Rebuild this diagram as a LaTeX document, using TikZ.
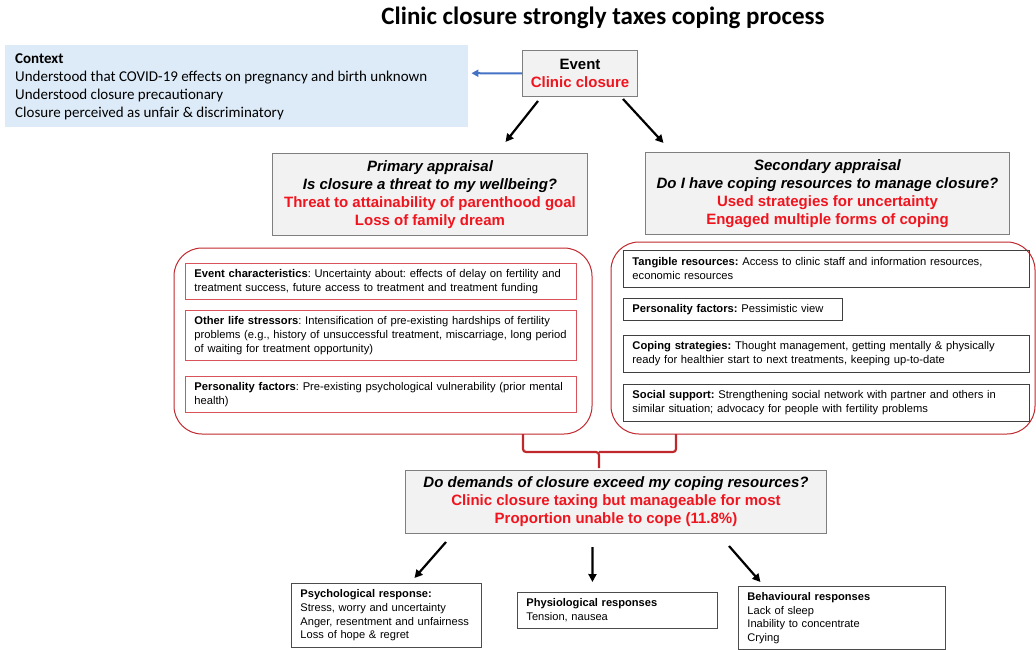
\documentclass[tikz,border=0pt]{standalone}
\usepackage{fontspec}
\setmainfont{Liberation Sans}
\newfontfamily\calib{Carlito}
\usetikzlibrary{arrows.meta,calc}
\frenchspacing
\definecolor{ctxblue}{HTML}{DDEBF8}
\definecolor{boxgray}{HTML}{F2F2F2}
\definecolor{edgegray}{HTML}{7F7F7F}
\definecolor{txtred}{HTML}{F0141E}
\definecolor{darkred}{HTML}{C0282E}
\definecolor{innerred}{HTML}{D9545A}
\definecolor{arrblue}{HTML}{4472C4}
\begin{document}
\begin{tikzpicture}[x=1pt,y=-1pt,
  graybox/.style={draw=edgegray,line width=1pt,fill=boxgray,inner sep=0pt,align=center,anchor=north west,font=\fontsize{15}{18}\selectfont\bfseries},
  redgroup/.style={draw=darkred,line width=1pt,rounded corners=28pt,fill=none},
  innerbox/.style={draw=innerred,line width=0.9pt,inner xsep=9pt,inner ysep=0pt,align=left,anchor=north west,font=\fontsize{11.2}{14}\selectfont\frenchspacing},
  blackbox/.style={draw=black!75,line width=0.9pt,inner xsep=9pt,inner ysep=0pt,align=left,anchor=north west,font=\fontsize{11.2}{14}\selectfont\frenchspacing},
  respbox/.style={draw=black!70,line width=0.9pt,inner xsep=9pt,inner ysep=0pt,align=left,anchor=north west,font=\fontsize{11.1}{13.6}\selectfont},
  arr/.style={line width=2.2pt,-{Triangle[length=8pt,width=8pt]}},
  bracestyle/.style={draw=darkred,line width=2.2pt,rounded corners=3pt}
]
\useasboundingbox (0,0) rectangle (1036,650);

% title
\node[font=\calib\fontsize{25}{28}\bfseries] (title) at (603,18) {Clinic closure strongly taxes coping process};

% context
\node[fill=ctxblue,anchor=north west,minimum width=463pt,minimum height=82pt,inner sep=0pt] (context) at (5,45) {};
\node[anchor=north west,align=left,inner sep=0pt,font=\calib\fontsize{15}{18}\selectfont] (contexttxt) at (15,53)
 {\textbf{Context}\\Understood that COVID-19 effects on pregnancy and birth unknown\\Understood closure precautionary\\Closure perceived as unfair \& discriminatory};

% event
\node[graybox,minimum width=115pt,minimum height=46pt] (event) at (522,50)
 {Event\\\textcolor{txtred}{Clinic closure}};

% primary / secondary appraisal
\node[graybox,minimum width=315pt,minimum height=82pt] (prim) at (272,153)
 {\itshape Primary appraisal\\\itshape Is closure a threat to my wellbeing?\\\textcolor{txtred}{Threat to attainability of parenthood goal}\\\textcolor{txtred}{Loss of family dream}};
\node[graybox,minimum width=364pt,minimum height=82pt] (sec) at (645,152)
 {\itshape Secondary appraisal\\\itshape Do I have coping resources to manage closure?\\\textcolor{txtred}{Used strategies for uncertainty}\\\textcolor{txtred}{Engaged multiple forms of coping}};

% red groups
\draw[redgroup] (174,248) rectangle (592,434);
\node[anchor=north west,minimum width=418pt,minimum height=186pt,inner sep=0pt] (leftgrp) at (174,248) {};
\draw[redgroup] (611,242) rectangle (1035,434);
\node[anchor=north west,minimum width=424pt,minimum height=192pt,inner sep=0pt] (rightgrp) at (611,242) {};

% left inner boxes
\node[innerbox,text width=373pt,minimum height=36pt] (ev) at (185,263)
 {\textbf{Event characteristics}: Uncertainty about: effects of delay on fertility and\\treatment success, future access to treatment and treatment funding};
\node[innerbox,text width=373pt,minimum height=50pt] (ols) at (185,310)
 {\textbf{Other life stressors}: Intensification of pre-existing hardships of fertility\\problems (e.g., history of unsuccessful treatment, miscarriage, long period\\of waiting for treatment opportunity)};
\node[innerbox,text width=373pt,minimum height=36pt] (pf1) at (185,376)
 {\textbf{Personality factors}: Pre-existing psychological vulnerability (prior mental\\health)};

% right inner boxes
\node[blackbox,text width=388pt,minimum height=37pt] (tr) at (623,250)
 {\textbf{Tangible resources:} Access to clinic staff and information resources,\\economic resources};
\node[blackbox,text width=201pt,minimum height=22pt] (pf2) at (623,298)
 {\textbf{Personality factors:} Pessimistic view};
\node[blackbox,text width=388pt,minimum height=37pt] (cs) at (623,335)
 {\textbf{Coping strategies:} Thought management, getting mentally \& physically\\ready for healthier start to next treatments, keeping up-to-date};
\node[blackbox,text width=388pt,minimum height=37pt] (ss) at (623,384)
 {\textbf{Social support:} Strengthening social network with partner and others in\\similar situation; advocacy for people with fertility problems};

% decision box
\node[graybox,minimum width=421pt,minimum height=63pt] (dec) at (405,470)
 {\itshape Do demands of closure exceed my coping resources?\\\textcolor{txtred}{Clinic closure taxing but manageable for most}\\\textcolor{txtred}{Proportion unable to cope (11.8\%)}};

% brace
\coordinate (bl) at (523,434);
\coordinate (br) at (676,434);
\coordinate (bm) at (599,452);
\coordinate (btip) at (599,468);
\draw[bracestyle] (bl) |- (bm) -- (btip);
\draw[bracestyle] (br) |- (bm);

% response boxes
\node[respbox,text width=172pt,minimum height=64pt] (psy) at (291,583)
 {\textbf{Psychological response:}\\Stress, worry and uncertainty\\Anger, resentment and unfairness\\Loss of hope \& regret};
\node[respbox,text width=182pt,minimum height=36pt] (phy) at (517,592)
 {\textbf{Physiological responses}\\Tension, nausea};
\node[respbox,text width=189pt,minimum height=63pt] (beh) at (738,586)
 {\textbf{Behavioural responses}\\Lack of sleep\\Inability to concentrate\\Crying};

% connectors
\draw[line width=2pt,arrblue,-{Triangle[length=7pt,width=7pt]}] (event.west) -- ([shift={(3,-13)}]context.east);
\draw[arr] ([shift={(16,4)}]event.south west) -- ([shift={(75.5,-11)}]prim.north);
\draw[arr] ([shift={(-15,2)}]event.south east) -- ([shift={(-164,-9)}]sec.north);
\draw[arr] ([shift={(41,8)}]dec.south west) -- ([shift={(28,-5)}]psy.north);
\draw[arr] ([shift={(-23.5,13)}]dec.south) -- ([shift={(-25,-10)}]phy.north);
\draw[arr] ([shift={(-98,12)}]dec.south east) -- ([shift={(-81.5,-4)}]beh.north);
\end{tikzpicture}
\end{document}
